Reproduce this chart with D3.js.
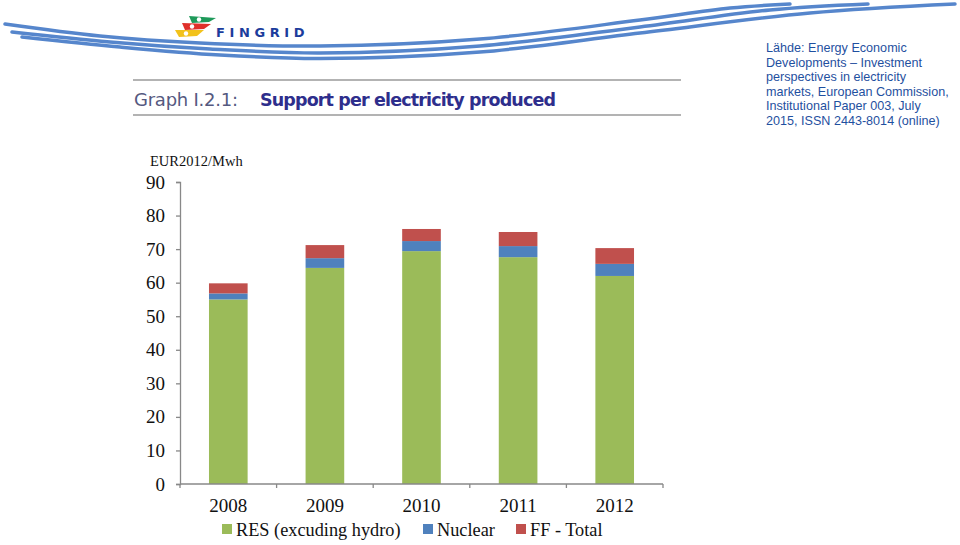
<!DOCTYPE html>
<html><head><meta charset="utf-8">
<script src="https://cdn.jsdelivr.net/npm/d3@7"></script>
<style>html,body{margin:0;padding:0;background:#fff;}svg{display:block;}</style>
</head><body>
<svg id="c" width="960" height="545"></svg>
<script>
const categories = ["2008","2009","2010","2011","2012"];
const resValues = [55.0, 64.4, 69.4, 67.6, 62.0];
const nuclearValues = [1.8, 2.9, 3.0, 3.3, 3.6];
const ffValues = [3.0, 3.9, 3.6, 4.2, 4.7];
const seriesNames = ["RES (excuding hydro)", "Nuclear", "FF - Total"];
const seriesColors = ["#9bbb59", "#4f81bd", "#c0504d"];
const yTicks = [0,10,20,30,40,50,60,70,80,90];
const sourceLines = ["Lähde: Energy Economic","Developments – Investment","perspectives in electricity","markets, European Commission,","Institutional Paper 003, July","2015, ISSN 2443-8014 (online)"];

const svg = d3.select("#c");

// decorative swooshes
const sw = svg.append("g").attr("fill","none").attr("stroke","#5686cc").attr("stroke-linecap","round");
const swooshes = [
  {pts:[[5,24],[100,36],[200,43],[320,46],[480,39],[640,20],[730,8],[790,4]], w:3.5},
  {pts:[[12,32],[110,42],[210,49],[320,53],[480,46],[640,27],[770,10],[868,4]], w:3.5},
  {pts:[[22,37],[120,47],[220,55],[320,58.5],[480,52],[640,33],[810,13],[955,4]], w:3.5}
];
const swLine = d3.line().curve(d3.curveCatmullRom);
swooshes.forEach(s => sw.append("path").attr("d", swLine(s.pts)).attr("stroke-width", s.w));

// logo
const logo = svg.append("g");
logo.append("path").attr("d","M189,16 L216,18 L209,22 L192,23 Z").attr("fill","#1e9a5a");
logo.append("path").attr("d","M182,23 L211,24 L204,29 L185,30 Z").attr("fill","#e0302a");
logo.append("path").attr("d","M175,30 L204,30 L197,36 L179,37 Z").attr("fill","#f2c21b");
[[199,19.5],[192,26.5],[186,33.5]].forEach(p=>logo.append("circle").attr("cx",p[0]).attr("cy",p[1]).attr("r",2.2).attr("fill","#fff"));
logo.append("text").attr("x",216).attr("y",37).text("FINGRID")
  .attr("font-family","DejaVu Sans, Arial, sans-serif").attr("font-weight","bold").attr("font-size",13)
  .attr("letter-spacing",4.6).attr("fill","#1c3c9c");

// source text
const src = svg.append("text").attr("font-family","Liberation Sans, Arial, sans-serif").attr("font-size",12.6).attr("fill","#1f50a0");
sourceLines.forEach((l,i)=>src.append("tspan").attr("x",766).attr("y",52+i*14.5).text(l));

// title block
svg.append("line").attr("x1",133).attr("x2",681).attr("y1",80).attr("y2",80).attr("stroke","#9a9a9a").attr("stroke-width",1.3);
svg.append("line").attr("x1",133).attr("x2",681).attr("y1",115).attr("y2",115).attr("stroke","#9a9a9a").attr("stroke-width",1.3);
svg.append("text").attr("x",134).attr("y",106).text("Graph I.2.1:")
  .attr("font-family","DejaVu Sans, sans-serif").attr("font-size",18).attr("fill","#55597f").attr("textLength",104);
svg.append("text").attr("x",260).attr("y",106).text("Support per electricity produced")
  .attr("font-family","DejaVu Sans, sans-serif").attr("font-weight","bold").attr("font-size",17.5).attr("fill","#2e2e8c").attr("textLength",296);

// chart
const x0 = 180, x1 = 663, yB = 484, yT = 182;
const x = d3.scaleBand().domain(categories).range([x0,x1]).paddingInner(0.6).paddingOuter(0.3);
const y = d3.scaleLinear().domain([0,90]).range([yB,yT]);

const rows = categories.map((c,i)=>({cat:c, res:resValues[i], nuc:nuclearValues[i], ff:ffValues[i]}));
const stack = d3.stack().keys(["res","nuc","ff"])(rows);
const g = svg.append("g");
stack.forEach((s,si)=>{
  g.append("g").attr("fill",seriesColors[si]).selectAll("rect").data(s).join("rect")
    .attr("x",d=>x(d.data.cat)).attr("width",x.bandwidth())
    .attr("y",d=>y(d[1])).attr("height",d=>y(d[0])-y(d[1]));
});

// y axis
const yAxis = d3.axisLeft(y).tickValues(yTicks).tickSize(4).tickPadding(11);
const ya = svg.append("g").attr("transform",`translate(${x0},0)`).call(yAxis);
ya.select(".domain").attr("stroke","#888").attr("stroke-width",1.3);
ya.selectAll(".tick line").attr("stroke","#888").attr("stroke-width",1.3);
ya.selectAll(".tick text").attr("font-family","Liberation Serif, Times New Roman, serif").attr("font-size",19).attr("fill","#111");

// x axis with ticks at band boundaries
const xa = svg.append("g");
xa.append("line").attr("x1",x0).attr("x2",x1).attr("y1",yB).attr("y2",yB).attr("stroke","#888").attr("stroke-width",1.3);
const step = x.step();
const bnds = categories.map(c=>x(c) - (step - x.bandwidth())/2).concat([x(categories[categories.length-1]) + x.bandwidth() + (step - x.bandwidth())/2]);
xa.selectAll("line.t").data(bnds).join("line").attr("class","t")
  .attr("x1",d=>d).attr("x2",d=>d).attr("y1",yB).attr("y2",yB+4).attr("stroke","#888").attr("stroke-width",1.3);
xa.selectAll("text").data(categories).join("text")
  .attr("x",d=>x(d)+x.bandwidth()/2).attr("y",512).attr("text-anchor","middle")
  .attr("font-family","Liberation Serif, Times New Roman, serif").attr("font-size",19).attr("fill","#111").text(d=>d);

// y label
svg.append("text").attr("x",150).attr("y",166).text("EUR2012/Mwh")
  .attr("font-family","Liberation Serif, Times New Roman, serif").attr("font-size",14.5).attr("fill","#111");

// legend
const legX = [222, 423, 516];
const lg = svg.append("g");
seriesNames.forEach((n,i)=>{
  lg.append("rect").attr("x",legX[i]).attr("y",524).attr("width",10).attr("height",10).attr("fill",seriesColors[i]);
  lg.append("text").attr("x",legX[i]+14).attr("y",536).text(n)
    .attr("font-family","Liberation Serif, Times New Roman, serif").attr("font-size",18.3).attr("fill","#111");
});
</script>
</body></html>
